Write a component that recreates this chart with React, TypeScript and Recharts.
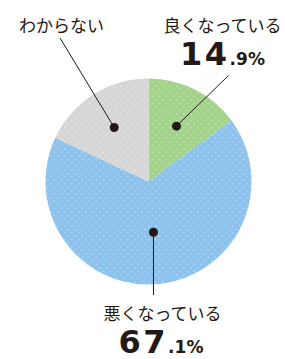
import { Cell, Pie, PieChart } from 'recharts';

const categories = ['良くなっている', '悪くなっている', 'わからない'];
const shares = [14.9, 67.1, 18.0];
const showPercent = [true, true, false];

const colors = ['#a3d38b', '#8cc2ec', '#d6d6d6'];

const data = categories.map((name, i) => ({ name, value: shares[i] }));

// label placement relative to pie centre: dot distance, leader end, text spots
const labelLayout = [
  { dot: 62, end: [80, -106], name: [74, -150], pct: [74, -116.5] },
  { dot: 51, end: [2.5, 113.5], name: [14, 138], pct: [12.5, 171.5], vertical: true },
  { dot: 64, end: [-88.5, -143.5], name: [-87, -150], pct: [0, 0] },
];

const RADIAN = Math.PI / 180;
const INK = '#231815';
const JP_FONT = '"Noto Sans CJK JP", "Noto Sans", sans-serif';
const NUM_FONT = '"DejaVu Sans", sans-serif';

const renderLabel = (props: any) => {
  const { cx, cy, midAngle, index, name, value } = props;
  const lay = labelLayout[index];
  const dx = Math.cos(-midAngle * RADIAN) * lay.dot;
  const dy = Math.sin(-midAngle * RADIAN) * lay.dot;
  const x = cx + dx;
  const y = cy + dy;
  const ex = lay.vertical ? x : cx + lay.end[0];
  const ey = cy + lay.end[1];
  const [whole, frac] = Number(value).toFixed(1).split('.');
  return (
    <g key={`lbl-${index}`}>
      <line x1={x} y1={y} x2={ex} y2={ey} stroke={INK} strokeWidth={1} />
      <circle cx={x} cy={y} r={4.5} fill={INK} />
      <text
        x={cx + lay.name[0]}
        y={cy + lay.name[1]}
        textAnchor="middle"
        fontFamily={JP_FONT}
        fontSize={17}
        fill={INK}
      >
        {name}
      </text>
      {showPercent[index] && (
        <text
          x={cx + lay.pct[0]}
          y={cy + lay.pct[1]}
          textAnchor="middle"
          fontFamily={NUM_FONT}
          fontWeight="bold"
          fill={INK}
        >
          <tspan fontSize={32} letterSpacing={2.5}>
            {whole}
          </tspan>
          <tspan fontSize={17}>.{frac}%</tspan>
        </text>
      )}
    </g>
  );
};

const DotPattern = ({ id, color }: { id: string; color: string }) => (
  <pattern id={id} width={7} height={7} patternUnits="userSpaceOnUse">
    <rect width={7} height={7} fill={color} />
    <rect x={1} y={1} width={1.6} height={1.6} fill="#ffffff" fillOpacity={0.3} />
    <rect x={4.5} y={4.5} width={1.6} height={1.6} fill="#ffffff" fillOpacity={0.3} />
  </pattern>
);

export default function App() {
  return (
    <div style={{ position: 'absolute', left: 0, top: 0, width: 285, height: 359 }}>
      <svg width={0} height={0} style={{ position: 'absolute' }}>
        <defs>
          {colors.map((c, i) => (
            <DotPattern key={i} id={`dots-${i}`} color={c} />
          ))}
        </defs>
      </svg>
      <PieChart width={285} height={359} margin={{ top: 0, right: 0, bottom: 0, left: 0 }}>
        <Pie
          data={data}
          dataKey="value"
          nameKey="name"
          cx={148.5}
          cy={181.5}
          outerRadius={103}
          startAngle={90}
          endAngle={-270}
          stroke="none"
          label={renderLabel}
          labelLine={false}
          isAnimationActive={false}
        >
          {data.map((_, i) => (
            <Cell key={i} fill={`url(#dots-${i})`} />
          ))}
        </Pie>
      </PieChart>
    </div>
  );
}
